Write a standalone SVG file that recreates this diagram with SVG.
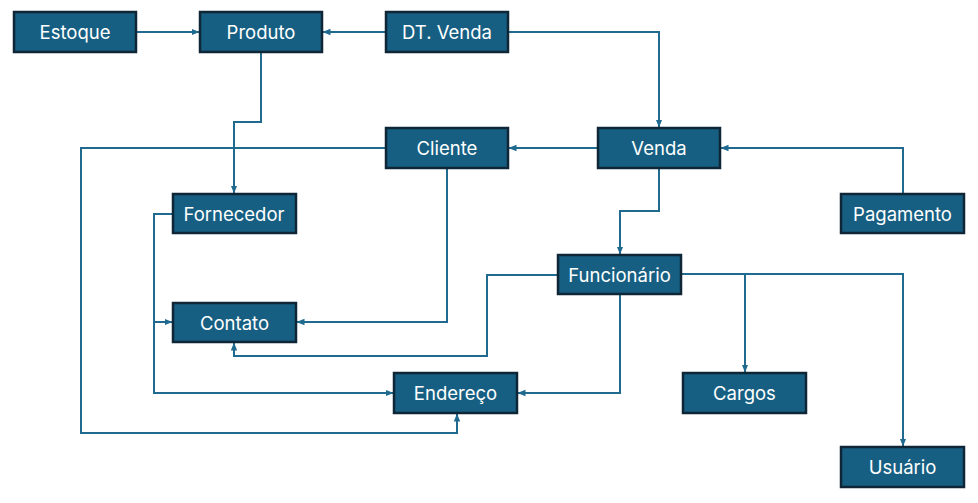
<svg xmlns="http://www.w3.org/2000/svg" width="978" height="503" viewBox="0 0 978 503">
<style>
.box{fill:#175F82;stroke:#0E2636;stroke-width:2.5}
.lbl{fill:#fff;font-family:Inter,"Liberation Sans",sans-serif;font-size:18.5px;text-anchor:middle;dominant-baseline:central}
.c{fill:none;stroke:#1F6A8E;stroke-width:2}
</style>
<defs>
<marker id="a" viewBox="0 0 8 8" refX="7.5" refY="4" markerWidth="8" markerHeight="8" markerUnits="userSpaceOnUse" orient="auto">
<path d="M0,0.8 L8,4 L0,7.2 Z" fill="#1F6A8E"/>
</marker>
</defs>
<g id="connectors">
<path class="c" d="M136,32 H199" marker-end="url(#a)"/>
<path class="c" d="M386,32 H323" marker-end="url(#a)"/>
<path class="c" d="M508,32 H659 V127" marker-end="url(#a)"/>
<path class="c" d="M261,52 V122 H234 V193" marker-end="url(#a)"/>
<path class="c" d="M598,148 H509" marker-end="url(#a)"/>
<path class="c" d="M903,194 V148 H721" marker-end="url(#a)"/>
<path class="c" d="M659,168 V211 H620 V254" marker-end="url(#a)"/>
<path class="c" d="M386,148 H81 V433 H457 V414" marker-end="url(#a)"/>
<path class="c" d="M447,168 V322 H297" marker-end="url(#a)"/>
<path class="c" d="M173,214 H154 V393 H393" marker-end="url(#a)"/>
<path class="c" d="M154,322 H172" marker-end="url(#a)"/>
<path class="c" d="M558,275 H487 V356 H234 V343" marker-end="url(#a)"/>
<path class="c" d="M620,294 V393 H518" marker-end="url(#a)"/>
<path class="c" d="M681,274 H745 V372" marker-end="url(#a)"/>
<path class="c" d="M745,274 H903 V446" marker-end="url(#a)"/>
</g>
<g id="estoque"><rect class="box" x="14" y="12" width="122" height="40"/><text class="lbl" x="75" y="32">Estoque</text></g>
<g id="produto"><rect class="box" x="200" y="12" width="122" height="40"/><text class="lbl" x="261" y="32">Produto</text></g>
<g id="dtvenda"><rect class="box" x="386" y="12" width="122" height="40"/><text class="lbl" x="447" y="32">DT. Venda</text></g>
<g id="cliente"><rect class="box" x="386" y="128" width="122" height="40"/><text class="lbl" x="447" y="148">Cliente</text></g>
<g id="venda"><rect class="box" x="598" y="128" width="122" height="40"/><text class="lbl" x="659" y="148">Venda</text></g>
<g id="fornecedor"><rect class="box" x="173" y="194" width="123" height="39"/><text class="lbl" x="234" y="213.5">Fornecedor</text></g>
<g id="pagamento"><rect class="box" x="841" y="194" width="123" height="39"/><text class="lbl" x="902.5" y="213.5">Pagamento</text></g>
<g id="funcionario"><rect class="box" x="558" y="255" width="123" height="39"/><text class="lbl" x="619.5" y="274.5">Funcionário</text></g>
<g id="contato"><rect class="box" x="173" y="303" width="123" height="39"/><text class="lbl" x="234.5" y="322.5">Contato</text></g>
<g id="endereco"><rect class="box" x="394" y="373" width="123" height="40"/><text class="lbl" x="455.5" y="393">Endereço</text></g>
<g id="cargos"><rect class="box" x="683" y="373" width="123" height="40"/><text class="lbl" x="744.5" y="393">Cargos</text></g>
<g id="usuario"><rect class="box" x="841" y="447" width="123" height="40"/><text class="lbl" x="902.5" y="467">Usuário</text></g>
</svg>
